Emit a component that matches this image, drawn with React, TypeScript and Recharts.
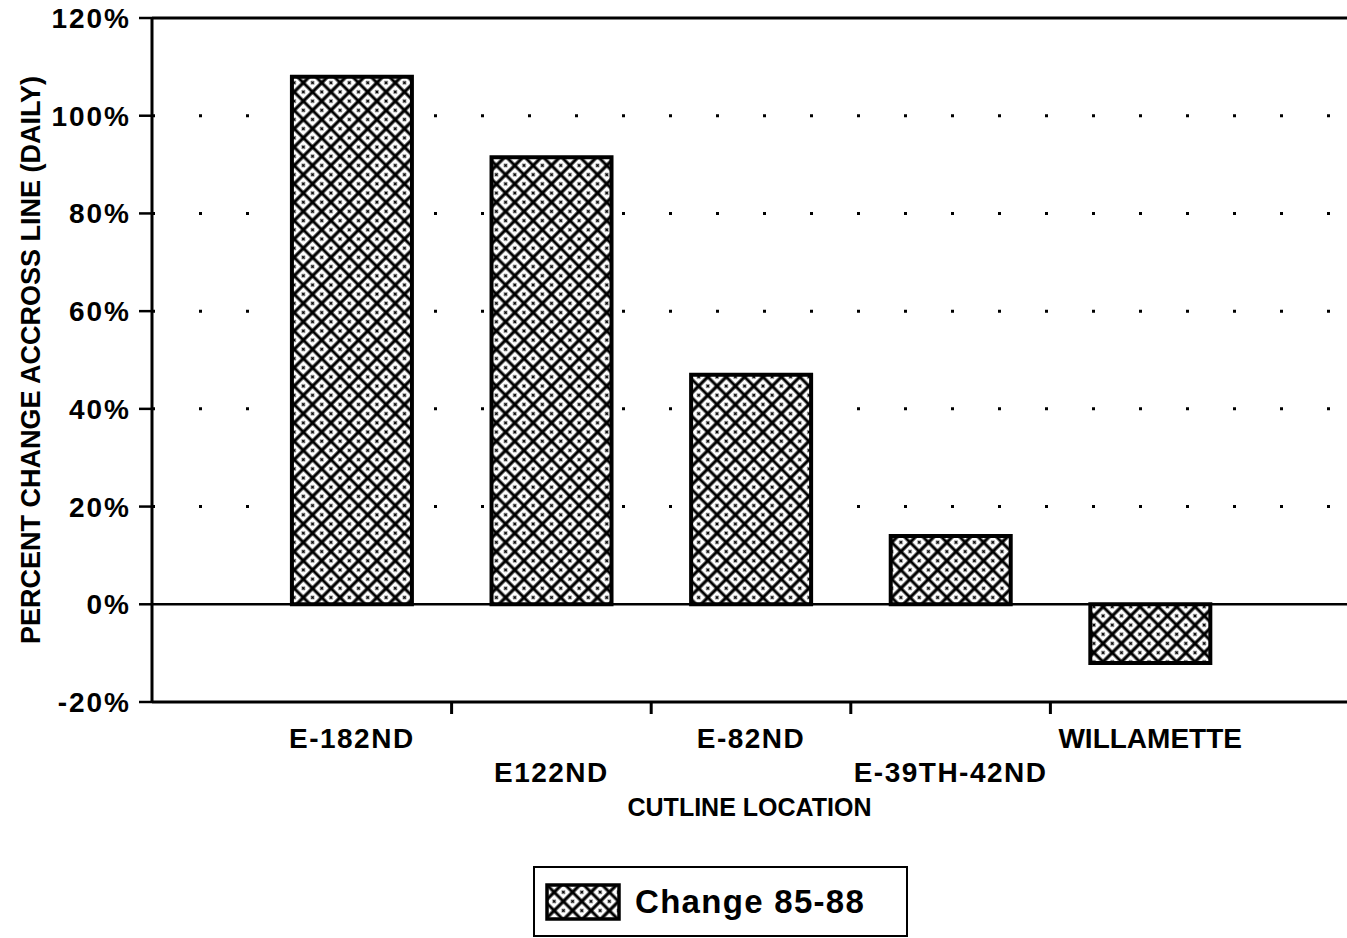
import { BarChart, Bar, XAxis, YAxis, CartesianGrid, ReferenceLine, Legend, Label } from "recharts";

const locations = ["E-182ND", "E122ND", "E-82ND", "E-39TH-42ND", "WILLAMETTE"];
const change8588 = [108, 91.5, 47, 14, -12];
const yTicks = [-20, 0, 20, 40, 60, 80, 100, 120];
const dottedLevels = [20, 40, 60, 80, 100];

const data = locations.map((loc, i) => ({ loc, change: change8588[i] }));

const FONT = "'Liberation Sans', Arial, sans-serif";

const CategoryTick = (props: any) => {
  const { x, y, payload, index } = props;
  const half = payload.offset ?? 0;
  const dy = index % 2 === 0 ? 36 : 70;
  return (
    <g>
      <text
        x={x}
        y={y + dy}
        textAnchor="middle"
        dominantBaseline="central"
        fontFamily={FONT}
        fontWeight="bold"
        fontSize={28}
        letterSpacing={index === locations.length - 1 ? 0 : 1.5}
        fill="#000"
      >
        {payload.value}
      </text>
      {index < locations.length - 1 && (
        <line x1={x + half} x2={x + half} y1={y} y2={y + 12} stroke="#000" strokeWidth={3} />
      )}
    </g>
  );
};

const renderLegend = (props: any) => {
  const item = props.payload && props.payload[0];
  return (
    <div style={{ position: "relative", width: 1347, height: 116 }}>
      <div
        style={{
          position: "absolute",
          left: 533,
          top: 44,
          width: 375,
          height: 71,
          border: "2px solid #000",
          boxSizing: "border-box",
          display: "flex",
          alignItems: "center",
        }}
      >
        <svg width={76} height={38} style={{ marginLeft: 10 }}>
          <rect x={2} y={2} width={72} height={34} fill="url(#hatch)" stroke="#000" strokeWidth={3.5} />
        </svg>
        <span
          style={{
            marginLeft: 14,
            fontFamily: FONT,
            fontWeight: "bold",
            fontSize: 33,
            letterSpacing: 1.3,
            color: "#000",
          }}
        >
          {item ? item.value : "Change 85-88"}
        </span>
      </div>
    </div>
  );
};

export default function App() {
  return (
    <div style={{ position: "absolute", left: 0, top: 0, background: "#fff" }}>
      <BarChart
        width={1347}
        height={938}
        data={data}
        margin={{ top: 18, right: 0, left: 0, bottom: 0 }}
        barCategoryGap="20%"
      >
        <defs>
          <pattern id="hatch" width="13" height="13" patternUnits="userSpaceOnUse" patternTransform="rotate(45)">
            <rect width="13" height="13" fill="#fff" />
            <path d="M0 0 H13 M0 13 H13 M0 0 V13 M13 0 V13" stroke="#000" strokeWidth={3.2} />
            <path d="M4.5 6.5 H8.5 M6.5 4.5 V8.5" stroke="#000" strokeWidth={1.4} />
          </pattern>
        </defs>
        <CartesianGrid
          vertical={false}
          horizontalValues={dottedLevels}
          stroke="#000"
          strokeWidth={3}
          strokeDasharray="3 44"
        />
        <XAxis
          dataKey="loc"
          height={120}
          padding={{ left: 100, right: 97 }}
          axisLine={{ stroke: "#000", strokeWidth: 3 }}
          tickLine={false}
          tickSize={0}
          tickMargin={0}
          interval={0}
          tick={<CategoryTick />}
        >
          <Label
            value="CUTLINE LOCATION"
            position="insideBottom"
            offset={6}
            style={{ fontFamily: FONT, fontWeight: "bold", fontSize: 25, fill: "#000" }}
          />
        </XAxis>
        <YAxis
          width={152}
          domain={[-20, 120]}
          ticks={yTicks}
          allowDataOverflow
          tickFormatter={(v: number) => `${v}%`}
          axisLine={{ stroke: "#000", strokeWidth: 3 }}
          tickLine={{ stroke: "#000", strokeWidth: 2.5 }}
          tickSize={13}
          tickMargin={8}
          tick={{ fill: "#000", fontFamily: FONT, fontWeight: "bold", fontSize: 28, letterSpacing: 2 }}
        >
          <Label
            content={({ viewBox }: any) => {
              const cx = 31;
              const cy = viewBox.y + viewBox.height / 2;
              return (
                <text
                  x={cx}
                  y={cy}
                  transform={`rotate(-90, ${cx}, ${cy})`}
                  textAnchor="middle"
                  dominantBaseline="central"
                  fontFamily={FONT}
                  fontWeight="bold"
                  fontSize={27}
                  fill="#000"
                >
                  PERCENT CHANGE ACCROSS LINE (DAILY)
                </text>
              );
            }}
          />
        </YAxis>
        <ReferenceLine y={120} stroke="#000" strokeWidth={3} />
        <ReferenceLine y={0} stroke="#000" strokeWidth={2.5} />
        <Bar
          dataKey="change"
          name="Change 85-88"
          fill="url(#hatch)"
          stroke="#000"
          strokeWidth={4}
          isAnimationActive={false}
        />
        <Legend verticalAlign="bottom" height={116} content={renderLegend} />
      </BarChart>
    </div>
  );
}
